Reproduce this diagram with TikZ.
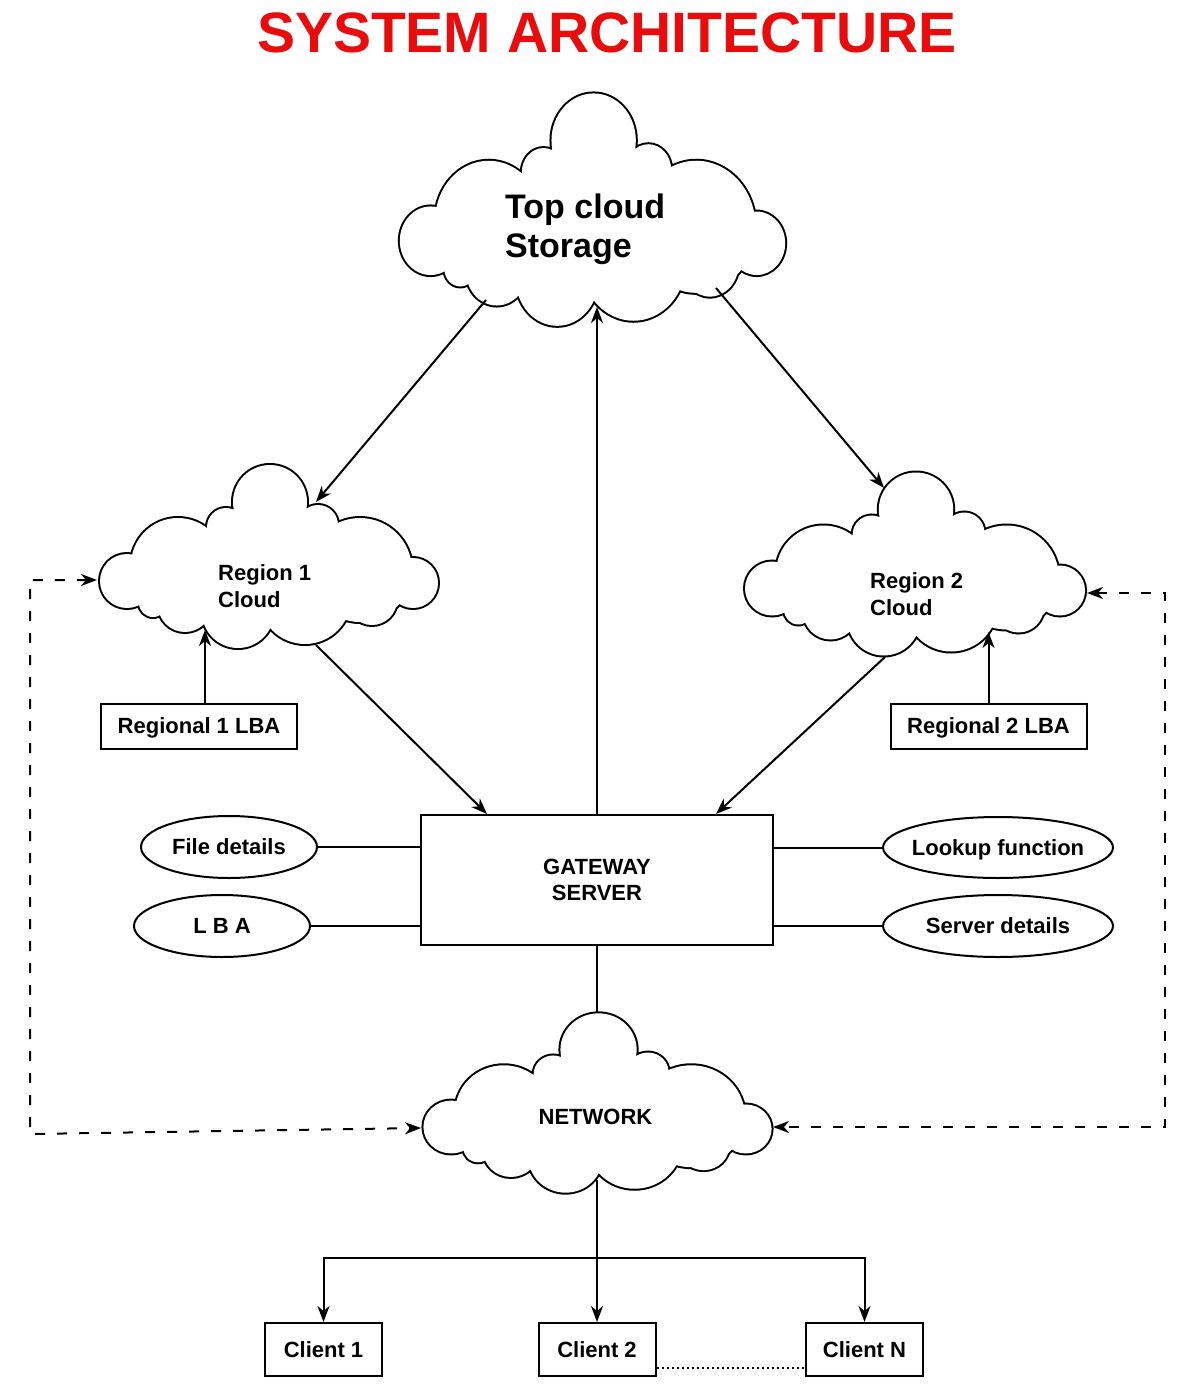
\documentclass[tikz,border=0pt]{standalone}
\usepackage{fontspec}
\setmainfont{Liberation Sans}
\usetikzlibrary{arrows.meta,shapes.geometric,calc}
\definecolor{titlered}{RGB}{232,12,12}

\newcommand{\cloudpuffs}[1]{\path[#1] (-142,25) circle (27) (-116,47) circle (14) (-84,49) circle (27) (-31,56) circle (36) (36,42) circle (46) (103,44) circle (25) (144,27) circle (25) (91,14) circle (52) (49,-31) circle (20) (1,-54) circle (37) (-43,-29) circle (19) (-91,9) circle (47);}
\newcommand{\drawcloud}[3]{\begin{scope}[shift={#1},xscale=#2,yscale=#3]\cloudpuffs{draw=black,line width=4pt}\cloudpuffs{fill=white}\fill[white] (1,22) ellipse (100 and 45);\fill[white] (1,-20) ellipse (60 and 30);\end{scope}}

\begin{document}
\begin{tikzpicture}[x=1pt,y=-1pt,
  lbl/.style={font=\bfseries\fontsize{22}{26.5}\selectfont, inner sep=0pt},
  box/.style={draw, line width=2pt, inner sep=0pt, font=\bfseries\fontsize{22}{26}\selectfont},
  capc/.style={text height=15.8pt, text depth=0pt},
  ell/.style={draw, ellipse, line width=2pt, inner sep=0pt, text height=15.8pt, text depth=0pt, font=\bfseries\fontsize{22}{26}\selectfont},
  ln/.style={line width=2pt},
  arr/.style={line width=2pt, -{Stealth[length=16pt,width=12pt,inset=5pt]}},
  dashl/.style={line width=2pt, dash pattern=on 10pt off 12pt, {Stealth[length=16pt,width=12pt,inset=5pt]}-{Stealth[length=16pt,width=12pt,inset=5pt]}},
  dotline/.style={line width=2pt, dash pattern=on 2.5pt off 2.5pt}]
\useasboundingbox (0,0) rectangle (1191,1396);
\fill[white] (0,0) rectangle (1191,1396);

% title
\node[anchor=base, inner sep=0pt, text=titlered, font=\bfseries\fontsize{57}{60}\selectfont] (title) at (607,53) {SYSTEM ARCHITECTURE};

% clouds
\drawcloud{(592.5,209)}{1.14}{1.27}
\drawcloud{(269,556)}{1}{1}
\drawcloud{(915,563.5)}{1.006}{1}
\drawcloud{(597.5,1102.5)}{1.03}{0.98}

% cloud labels
\node[anchor=north west, align=left, inner sep=0pt, font=\bfseries\fontsize{34}{39}\selectfont] (topc) at (505,194) {Top cloud\\Storage};
\node[lbl, anchor=north west, align=left] (reg1) at (218,564.5) {Region 1\\Cloud};
\node[lbl, anchor=north west, align=left] (reg2) at (870,572.5) {Region 2\\Cloud};
\node[lbl, anchor=base] (net) at (595.5,1124) {NETWORK};

% boxes
\node[box, capc, minimum width=196pt, minimum height=45pt] (r1lba) at (199,726) {Regional 1 LBA};
\node[box, capc, minimum width=196pt, minimum height=45pt] (r2lba) at (988.5,726) {Regional 2 LBA};
\node[box, align=center, minimum width=352pt, minimum height=130pt] (gw) at (597,880) {GATEWAY\\SERVER};
\node[box, capc, minimum width=117pt, minimum height=53pt] (c1) at (323.5,1349.5) {Client 1};
\node[box, capc, minimum width=117pt, minimum height=53pt] (c2) at (597,1349.5) {Client 2};
\node[box, capc, minimum width=117pt, minimum height=53pt] (cN) at (864.5,1349.5) {Client N};

% ellipses
\node[ell, minimum width=176pt, minimum height=62pt] (fd) at (229,847) {\makebox[0pt]{File details}};
\node[ell, minimum width=176pt, minimum height=62pt] (lba) at (222,926) {\makebox[0pt]{L B A}};
\node[ell, minimum width=230pt, minimum height=61pt] (lf) at (998,847.5) {\makebox[0pt]{Lookup function}};
\node[ell, minimum width=230pt, minimum height=62pt] (sd) at (998,926) {\makebox[0pt]{Server details}};

% coordinates on cloud outlines
\coordinate (t1) at (486,300);
\coordinate (t2) at (597,307);
\coordinate (t3) at (716,288);
\coordinate (r1top) at (316,502);
\coordinate (r1left) at (97,580);
\coordinate (r1bot) at (205,630);
\coordinate (r1out) at (316,645);
\coordinate (r2top) at (884,488);
\coordinate (r2right) at (1087,593);
\coordinate (r2bot) at (988.5,632);
\coordinate (r2out) at (885,657);
\coordinate (nettop) at (597,1013);
\coordinate (netleft) at (421,1128);
\coordinate (netright) at (773,1127);
\coordinate (netbot) at (597,1180);
\coordinate (br) at (597,1258);
\coordinate (dl1) at (30,580);
\coordinate (dl2) at (30,1134);
\coordinate (dr1) at (1165,593);
\coordinate (dr2) at (1165,1127);

% connectors
\draw[arr] (t1) -- (r1top);
\draw[arr] (t3) -- (r2top);
\draw[arr] (gw.north) -- (t2);
\draw[arr] (r1out) -- ([xshift=-110pt]gw.north);
\draw[arr] (r2out) -- ([xshift=119pt]gw.north);
\draw[arr] (r1lba.north -| r1bot) -- (r1bot);
\draw[arr] (r2lba.north) -- (r2bot);
\draw[ln] (fd.east) -- (fd.east -| gw.west);
\draw[ln] (lba.east) -- (lba.east -| gw.west);
\draw[ln] (lf.west) -- (lf.west -| gw.east);
\draw[ln] (sd.west) -- (sd.west -| gw.east);
\draw[ln] (gw.south) -- (nettop);
\draw[arr] (netbot) -- (c2.north);
\draw[arr] (br) -| (c1.north);
\draw[arr] (br) -| (cN.north);
\draw[dotline] ([yshift=-18.5pt]c2.east) -- ([yshift=-18.5pt]cN.west);
\draw[dashl] (r1left) -- (dl1) -- (dl2) -- (netleft);
\draw[dashl] (r2right) -- (dr1) -- (dr2) -- (netright);
\end{tikzpicture}
\end{document}
